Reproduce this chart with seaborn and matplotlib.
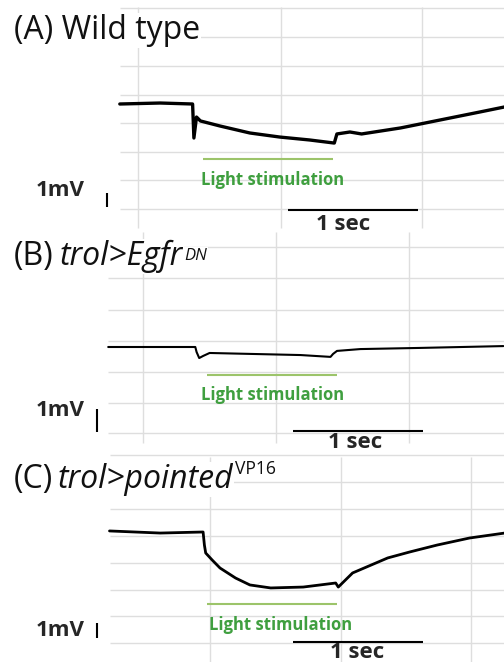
import numpy as np
import matplotlib.pyplot as plt
import seaborn as sns

# --- data (time in s from light onset, voltage in mV from baseline) ---
t_wt = [-0.64, -0.33, -0.08, -0.07, -0.05, -0.02, 0.13, 0.36, 0.59, 0.82, 1.01, 1.03,
        1.13, 1.22, 1.52, 1.90, 2.13, 2.32]
v_wt = [0.00, 0.07, 0.00, -2.43, -0.93, -1.21, -1.57, -2.07, -2.36, -2.57, -2.79, -2.14,
        -2.00, -2.14, -1.71, -1.00, -0.57, -0.21]

t_egfr = [-0.76, -0.09, -0.08, -0.06, -0.03, 0.02, 0.33, 0.72, 0.95, 0.97, 1.00, 1.18, 1.64, 2.28]
v_egfr = [0.00, 0.00, -0.22, -0.48, -0.39, -0.26, -0.30, -0.35, -0.43, -0.30, -0.17, -0.09, -0.04, 0.04]

t_pnt = [-0.75, -0.36, -0.03, -0.02, -0.01, 0.04, 0.10, 0.22, 0.33, 0.49, 0.74, 0.87, 0.99,
         1.01, 1.12, 1.39, 1.56, 1.77, 2.02, 2.29]
v_pnt = [0.07, -0.07, 0.00, -0.87, -1.40, -1.87, -2.40, -3.07, -3.53, -3.73, -3.67, -3.53, -3.40,
         -3.67, -2.73, -1.73, -1.33, -0.87, -0.40, -0.07]

stim_on, stim_off = 0.0, 1.0
scale_sec = 1.0
scale_mv = 1.0

# --- layout (pixels of the 504x662 figure) ---
W, H = 504, 662
PX_PER_SEC = 130
GRID = "#dedede"
LIGHT_LINE = "#9cc46a"
LIGHT_TEXT = "#3f9f3f"

panels = [
    dict(t=t_wt, v=v_wt, x0=203, base=104, ppmv=14, top=0, bottom=232, lw=2.4,
         hgrid=[8, 37, 66, 95, 123, 152, 180, 209], hx=120, vgrid=[138, 281, 422], vspan=(7, 228),
         light_y=159, light_text=(273, 180), mv_text=(60, 190), mv_bar=(107, 193),
         sec_bar=(288, 210), sec_text=(343, 224),
         title_y=39, title=[("(A) Wild type", "normal", 1.0, 0, 0)]),
    dict(t=t_egfr, v=v_egfr, x0=207, base=347, ppmv=23, top=232, bottom=452, lw=1.5,
         hgrid=[247, 278, 310, 341, 372, 403, 433], hx=108, vgrid=[143, 276, 409], vspan=(232, 443),
         light_y=375, light_text=(273, 395), mv_text=(60, 410), mv_bar=(97, 409),
         sec_bar=(293, 431), sec_text=(355, 443),
         title_y=265, title=[("(B)", "normal", 1.0, 0, 6), ("trol>Egfr", "italic", 1.0, 0, 1),
                             ("DN", "italic", 0.52, 5, 0)]),
    dict(t=t_pnt, v=v_pnt, x0=207, base=532, ppmv=15, top=452, bottom=662, lw=2.0,
         hgrid=[455, 482, 509, 536, 563, 590, 616, 643], hx=110, vgrid=[210, 341, 471], vspan=(457, 662),
         light_y=604, light_text=(281, 625), mv_text=(60, 630), mv_bar=(97, 623),
         sec_bar=(293, 642), sec_text=(357, 653),
         title_y=488, title=[("(C)", "normal", 1.0, 0, 4), ("trol>pointed", "italic", 1.0, 0, 2),
                             ("VP16", "normal", 0.55, 14, 0)]),
]

sns.set_theme(style="white")
plt.rcParams['font.family'] = ['Open Sans', 'DejaVu Sans']

fig = plt.figure(figsize=(W / 100, H / 100), dpi=100)
renderer = fig.canvas.get_renderer()
TITLE_SIZE = 23


def tx(p, x):
    return (x - p['x0']) / PX_PER_SEC


def vy(p, y):
    return (p['base'] - y) / p['ppmv']


for p in panels:
    ax = fig.add_axes([0, 1 - p['bottom'] / H, 1, (p['bottom'] - p['top']) / H])

    # background grid of the recording software
    ax.hlines([vy(p, y) for y in p['hgrid']], tx(p, p['hx']), tx(p, W), color=GRID, lw=1, zorder=0)
    ax.vlines([tx(p, x) for x in p['vgrid']], vy(p, p['vspan'][1]), vy(p, p['vspan'][0]),
              color=GRID, lw=1, zorder=0)

    sns.lineplot(x=p['t'], y=p['v'], ax=ax, color="black", lw=p['lw'],
                 estimator=None, sort=False, zorder=3)

    # light stimulation bar
    ax.hlines(vy(p, p['light_y']), stim_on, stim_off, color=LIGHT_LINE, lw=1.5, zorder=2)
    ax.text(tx(p, p['light_text'][0]), vy(p, p['light_text'][1]), "Light stimulation",
            color=LIGHT_TEXT, fontsize=12, fontweight="bold", ha="center", va="center")

    # scale bars
    mx, my = p['mv_bar']
    ax.vlines(tx(p, mx), vy(p, my) - scale_mv, vy(p, my), color="black", lw=1.5)
    ax.text(tx(p, p['mv_text'][0]), vy(p, p['mv_text'][1]), "1mV", fontsize=16,
            fontweight="bold", ha="center", va="center")
    sx, sy = p['sec_bar']
    ax.hlines(vy(p, sy), tx(p, sx), tx(p, sx) + scale_sec, color="black", lw=1.5)
    ax.text(tx(p, p['sec_text'][0]), vy(p, p['sec_text'][1]), "1 sec", fontsize=16,
            fontweight="bold", ha="center", va="center")

    ax.set_xlim(tx(p, 0), tx(p, W))
    ax.set_ylim(vy(p, p['bottom']), vy(p, p['top']))
    ax.set_axis_off()

    # panel title, pieces placed one after another
    x = 14
    for txt, style, scale, rise, gap in p['title']:
        t = fig.text(x / W, 1 - (p['title_y'] - rise) / H, txt, fontsize=TITLE_SIZE * scale,
                     style=style, ha="left", va="baseline", color="#111111",
                     bbox=dict(fc="white", ec="none", pad=1), zorder=5)
        bb = t.get_window_extent(renderer)
        x = bb.x1 + gap

fig.savefig("out.png", dpi=100)
